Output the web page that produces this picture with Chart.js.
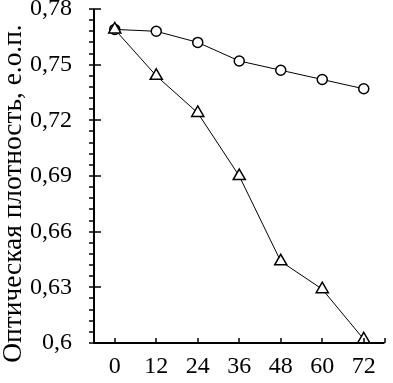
<!DOCTYPE html>
<html>
<head>
<meta charset="utf-8">
<style>
html,body{margin:0;padding:0;background:#fff;}
canvas{display:block;}
</style>
<script src="https://cdn.jsdelivr.net/npm/chart.js@4/dist/chart.umd.min.js"></script>
</head>
<body>
<canvas id="c" width="393" height="383"></canvas>
<script>
const hours = [0, 12, 24, 36, 48, 60, 72];
const circleSeries = [0.769, 0.768, 0.762, 0.752, 0.747, 0.742, 0.737];
const triangleSeries = [0.769, 0.744, 0.724, 0.690, 0.644, 0.629, 0.602];
const yMajorTicks = [0.6, 0.63, 0.66, 0.69, 0.72, 0.75, 0.78];
const yTickLabels = ['0,6', '0,63', '0,66', '0,69', '0,72', '0,75', '0,78'];
const xTickLabels = ['0', '12', '24', '36', '48', '60', '72'];
const yMinorStep = 0.006;
const yTitle = 'Оптическая плотность, е.о.п.';

const FONT = "'Liberation Serif', 'Times New Roman', serif";

const axesPlugin = {
  id: 'axesPlugin',
  afterDatasetsDraw(chart) {
    const ctx = chart.ctx;
    const xs = chart.scales.x, ys = chart.scales.y;
    const x0 = xs.getPixelForValue(xs.min);
    const x1 = xs.getPixelForValue(xs.max);
    const y0 = ys.getPixelForValue(ys.min);
    const y1 = ys.getPixelForValue(ys.max);
    ctx.save();
    ctx.strokeStyle = '#000';
    ctx.lineWidth = 2;
    ctx.beginPath();
    ctx.moveTo(x0, y1); ctx.lineTo(x0, y0 + 1);
    ctx.moveTo(x0 - 1, y0); ctx.lineTo(x1, y0);
    ctx.stroke();
    ctx.lineWidth = 1.5;
    ctx.beginPath();
    const n = Math.round((ys.max - ys.min) / yMinorStep);
    for (let i = 0; i <= n; i++) {
      const v = ys.min + i * yMinorStep;
      const py = Math.round(ys.getPixelForValue(v));
      ctx.moveTo(x0 - 5, py); ctx.lineTo(x0, py);
    }
    yMajorTicks.forEach(v => {
      const py = Math.round(ys.getPixelForValue(v));
      ctx.moveTo(x0 - 5, py); ctx.lineTo(x0 + 7, py);
    });
    hours.concat([xs.max]).forEach(v => {
      const px = Math.round(xs.getPixelForValue(v));
      ctx.moveTo(px, y0); ctx.lineTo(px, y0 - 5);
    });
    ctx.stroke();
    // rotated y-axis title, sized to span the reference length
    ctx.fillStyle = '#000';
    ctx.font = '24px ' + FONT;
    const w24 = ctx.measureText(yTitle).width;
    const size = Math.min(28, 24 * 338 / w24);
    ctx.font = size.toFixed(1) + 'px ' + FONT;
    ctx.textAlign = 'center';
    ctx.textBaseline = 'alphabetic';
    ctx.translate(21, chart.height / 2 + 2);
    ctx.rotate(-Math.PI / 2);
    ctx.fillText(yTitle, 0, 0);
    ctx.restore();
  }
};

new Chart(document.getElementById('c'), {
  type: 'line',
  data: {
    datasets: [
      {
        data: hours.map((h, i) => ({x: h, y: triangleSeries[i]})),
        borderColor: '#000',
        borderWidth: 1,
        pointStyle: 'triangle',
        pointRadius: 7,
        pointBorderWidth: 1.5,
        pointBackgroundColor: '#fff',
        pointBorderColor: '#000',
        tension: 0
      },
      {
        data: hours.map((h, i) => ({x: h, y: circleSeries[i]})),
        borderColor: '#000',
        borderWidth: 1,
        pointStyle: 'circle',
        pointRadius: 5,
        pointBorderWidth: 1.5,
        pointBackgroundColor: '#fff',
        pointBorderColor: '#000',
        tension: 0
      }
    ]
  },
  options: {
    responsive: false,
    animation: false,
    devicePixelRatio: 1,
    layout: {padding: {top: 9, right: 1, left: 0, bottom: 0}},
    plugins: {legend: {display: false}, tooltip: {enabled: false}},
    scales: {
      x: {
        type: 'linear',
        min: -6,
        max: 78,
        grid: {display: false, drawTicks: false},
        border: {display: false},
        afterBuildTicks: s => { s.ticks = hours.map(v => ({value: v})); },
        afterFit: s => { s.height = 40; s.paddingLeft = 0; s.paddingRight = 0; },
        ticks: {
          color: '#000',
          padding: 9,
          maxRotation: 0,
          autoSkip: false,
          font: {family: FONT, size: 24},
          callback: (v, i) => xTickLabels[i]
        }
      },
      y: {
        min: 0.6,
        max: 0.78,
        grid: {display: false, drawTicks: false},
        border: {display: false},
        afterBuildTicks: s => { s.ticks = yMajorTicks.map(v => ({value: v})); },
        afterFit: s => { s.width = 94; s.paddingTop = 0; s.paddingBottom = 0; },
        ticks: {
          color: '#000',
          padding: 22,
          autoSkip: false,
          font: {family: FONT, size: 24},
          callback: (v, i) => yTickLabels[i]
        }
      }
    }
  },
  plugins: [axesPlugin]
});
</script>
</body>
</html>
